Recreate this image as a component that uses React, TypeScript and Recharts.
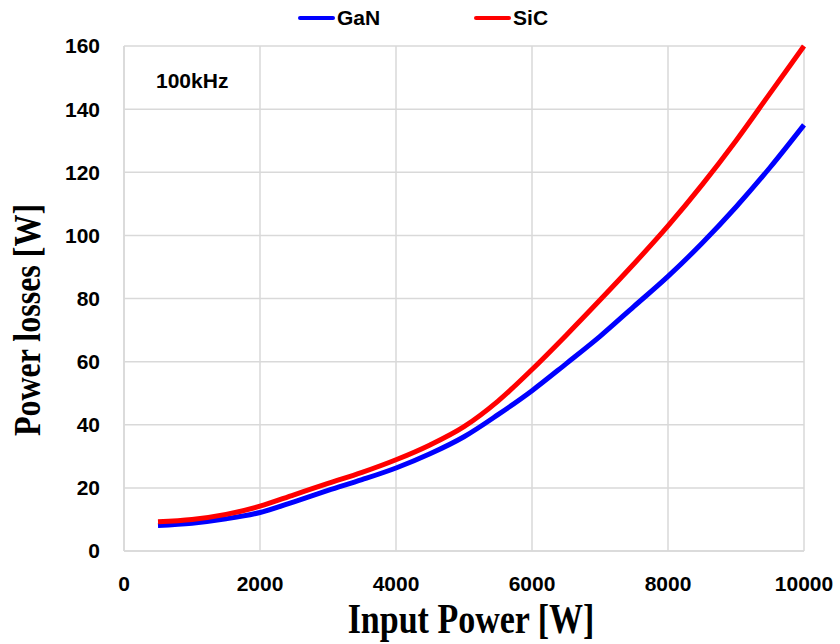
import { LineChart, Line, XAxis, YAxis, CartesianGrid, Legend, Label } from "recharts";

const inputPower = [500, 1000, 1500, 2000, 2500, 3000, 3500, 4000, 4500, 5000, 5500, 6000, 6500, 7000, 7500, 8000, 8500, 9000, 9500, 10000];
const ganLosses = [8.1, 8.8, 10.2, 12.2, 15.6, 19.2, 22.6, 26.3, 30.8, 36.2, 43.2, 50.8, 59.3, 68, 77.5, 87, 97.5, 109, 121.5, 135];
const sicLosses = [9.3, 10.0, 11.6, 14.2, 17.8, 21.4, 24.9, 28.9, 33.6, 39.4, 47.5, 57.5, 68.3, 79.5, 91, 103, 116, 130, 145, 160];
const xTicks = [0, 2000, 4000, 6000, 8000, 10000];
const yTicks = [0, 20, 40, 60, 80, 100, 120, 140, 160];

const data = inputPower.map((p, i) => ({ p, GaN: ganLosses[i], SiC: sicLosses[i] }));

const sans = "'Liberation Sans', Arial, sans-serif";
const serif = "'Liberation Serif', 'Times New Roman', serif";

function LegendBox({ payload }: any) {
  return (
    <div style={{ height: 30, display: "flex", justifyContent: "center", alignItems: "center", gap: 94, paddingLeft: 6, fontFamily: sans, fontWeight: 700, fontSize: 21, color: "#000" }}>
      {(payload || []).map((it: any) => (
        <div key={it.value} style={{ display: "flex", alignItems: "center", gap: 2 }}>
          <span style={{ display: "inline-block", width: 37, height: 4, borderRadius: 2, background: it.color }}></span>
          <span>{it.value}</span>
        </div>
      ))}
    </div>
  );
}

export default function App() {
  const tick = { fill: "#000", fontSize: 21, fontWeight: 700, fontFamily: sans };
  return (
    <div style={{ position: "absolute", left: 0, top: 0, width: 840, height: 644, background: "#fff" }}>
      <LineChart width={840} height={644} data={data} margin={{ top: 16, right: 36, left: 64, bottom: 53 }}>
        <CartesianGrid stroke="#d9d9d9" strokeWidth={1.5} />
        <XAxis
          dataKey="p"
          type="number"
          domain={[0, 10000]}
          ticks={xTicks}
          tick={tick}
          tickLine={false}
          tickSize={0}
          tickMargin={25}
          height={40}
          stroke="#d9d9d9"
          strokeWidth={1.5}
        >
          <Label
            content={() => (
              <text transform="translate(471 633) scale(1 1.25)" textAnchor="middle" fontFamily={serif} fontWeight={700} fontSize={34} fill="#000">
                Input Power [W]
              </text>
            )}
          />
        </XAxis>
        <YAxis
          type="number"
          domain={[0, 160]}
          ticks={yTicks}
          tick={tick}
          tickLine={false}
          tickSize={0}
          tickMargin={24}
          width={60}
          stroke="#d9d9d9"
          strokeWidth={1.5}
        >
          <Label
            content={() => (
              <text transform="translate(40 320) rotate(-90) scale(1 1.2)" textAnchor="middle" fontFamily={serif} fontWeight={700} fontSize={32} fill="#000">
                Power losses [W]
              </text>
            )}
          />
        </YAxis>
        <Legend verticalAlign="top" align="center" content={<LegendBox />} wrapperStyle={{ top: 3, left: 0, width: 840 }} />
        <Line type="monotone" dataKey="GaN" stroke="#0000ff" strokeWidth={5} dot={false} isAnimationActive={false} />
        <Line type="monotone" dataKey="SiC" stroke="#ff0000" strokeWidth={5} dot={false} isAnimationActive={false} />
      </LineChart>
      <div style={{ position: "absolute", left: 156, top: 69, fontFamily: sans, fontWeight: 700, fontSize: 21, color: "#000", lineHeight: "24px" }}>
        100kHz
      </div>
    </div>
  );
}
